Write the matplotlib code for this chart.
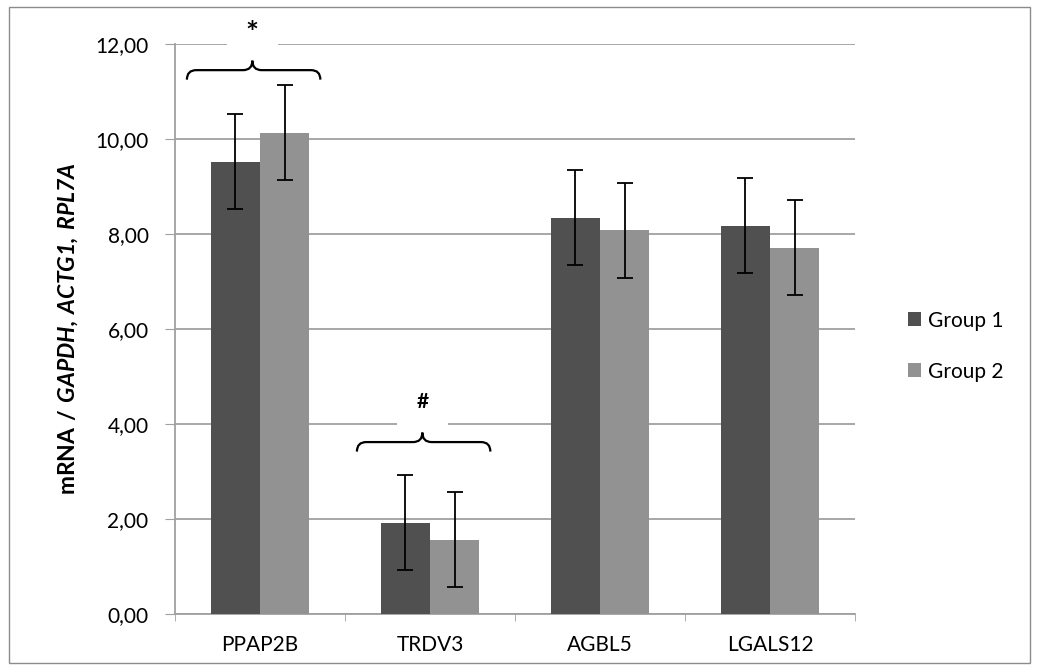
import matplotlib.pyplot as plt
import numpy as np
from matplotlib.path import Path
from matplotlib.patches import PathPatch, Rectangle

genes = ["PPAP2B", "TRDV3", "AGBL5", "LGALS12"]
group1 = [9.52, 1.92, 8.34, 8.17]
group2 = [10.13, 1.56, 8.08, 7.71]
err1 = [1.0, 1.0, 1.0, 1.0]
err2 = [1.0, 1.0, 1.0, 1.0]
y_ticks = [0, 2, 4, 6, 8, 10, 12]
# (category, symbol, brace height, symbol height)
marks = [(0, "*", 11.45, 12.22), (1, "#", 3.62, 4.46)]

plt.rcParams['font.family'] = ['Lato', 'DejaVu Sans']
plt.rcParams['mathtext.fontset'] = 'custom'
plt.rcParams['mathtext.bf'] = 'Lato:bold'
plt.rcParams['mathtext.bfit'] = 'Lato:bold:italic'


def brace(ax, x0, x1, xm, y):
    # curly brace opening downward, tip pointing up
    rx, ry = 0.055, 0.2
    verts = [(x0, y - ry), (x0, y), (x0 + rx, y),
             (xm - rx, y), (xm, y), (xm, y + ry),
             (xm, y), (xm + rx, y),
             (x1 - rx, y), (x1, y), (x1, y - ry)]
    codes = [Path.MOVETO, Path.CURVE3, Path.CURVE3,
             Path.LINETO, Path.CURVE3, Path.CURVE3,
             Path.CURVE3, Path.CURVE3,
             Path.LINETO, Path.CURVE3, Path.CURVE3]
    ax.add_patch(PathPatch(Path(verts, codes), fill=False, lw=1.6,
                           edgecolor='black', zorder=5, clip_on=False))


fig = plt.figure(figsize=(10.38, 6.71), dpi=100)
ax = fig.add_axes([0.1686, 0.0849, 0.6551, 0.8495])

x = np.arange(len(genes))
w = 0.29
ax.bar(x - w / 2, group1, w, color='#505050', label='Group 1', zorder=3)
ax.bar(x + w / 2, group2, w, color='#929292', label='Group 2', zorder=3)
ekw = dict(fmt='none', ecolor='black', elinewidth=1.3, capsize=6, capthick=1.3, zorder=4)
ax.errorbar(x - w / 2, group1, yerr=err1, **ekw)
ax.errorbar(x + w / 2, group2, yerr=err2, **ekw)

ax.set_xlim(-0.5, len(genes) - 0.5)
ax.set_ylim(0, 12)
ax.set_yticks(y_ticks)
ax.set_yticklabels([f"{v:.2f}".replace('.', ',') for v in y_ticks], fontsize=15)
ax.set_xticks(x)
ax.set_xticklabels(genes, fontsize=15)
ax.set_xticks(np.arange(-0.5, len(genes)), minor=True)
ax.tick_params(axis='x', which='major', length=0, pad=15)
ax.tick_params(axis='x', which='minor', length=5, color='#a0a0a0')
ax.tick_params(axis='y', length=7, color='#a0a0a0', pad=12)
ax.yaxis.grid(True, color='#a0a0a0', lw=1.3, zorder=0)
ax.set_axisbelow(True)
for s in ['top', 'right']:
    ax.spines[s].set_visible(False)
for s in ['left', 'bottom']:
    ax.spines[s].set_color('#a0a0a0')
    ax.spines[s].set_linewidth(1.3)

for i, sym, yb, ys in marks:
    xm = i - 0.045
    ax.add_patch(Rectangle((xm - 0.15, ys - 0.5), 0.3, 1.0, facecolor='white',
                           edgecolor='none', zorder=2, clip_on=False))
    brace(ax, i - 0.43, i + 0.355, xm, yb)
    ax.text(xm, ys, sym, ha='center', va='center',
            fontsize=22 if sym == "*" else 15, fontweight='bold', zorder=6)

ax.set_ylabel(r"$\mathbf{mRNA\ /\ }\mathbfit{GAPDH{,}\ ACTG1{,}\ RPL7A}$", fontsize=16.5,
              labelpad=11)

ax.legend(loc='center left', bbox_to_anchor=(1.05, 0.47), frameon=False, fontsize=15,
          handlelength=0.65, handleheight=0.65, handletextpad=0.3, labelspacing=1.5)

fig.add_artist(Rectangle((0.009, 0.012), 0.983, 0.977, transform=fig.transFigure,
                         fill=False, edgecolor='#8c8c8c', lw=1.0))

fig.savefig('out.png', dpi=100)
